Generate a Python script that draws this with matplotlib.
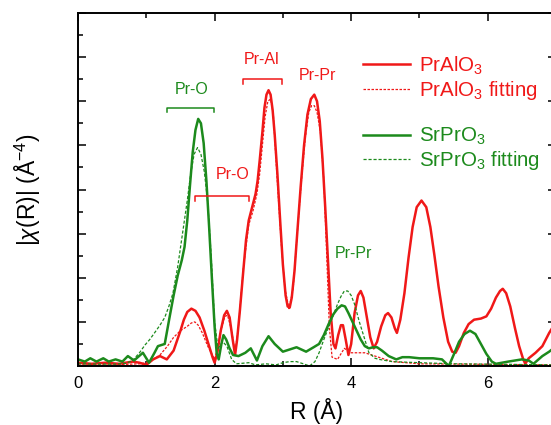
# -*- coding: utf-8 -*-
# EXAFS |chi(R)| of PrAlO3 and SrPrO3 with fits
import numpy as np
import matplotlib
matplotlib.use('Agg')
import matplotlib.pyplot as plt
from matplotlib.lines import Line2D

plt.rcParams['font.family'] = ['Liberation Sans', 'DejaVu Sans']
plt.rcParams['mathtext.fontset'] = 'custom'
plt.rcParams['mathtext.rm'] = 'Liberation Sans'
plt.rcParams['mathtext.it'] = 'Liberation Sans:italic'

# PrAlO3 data (R in Angstrom, |chi(R)| arb.)
r_pal = [0.0, 0.2, 0.4, 0.6, 0.8, 0.9, 1.0, 1.1, 1.2, 1.3, 1.4, 1.5, 1.55, 1.6, 1.66, 1.72,
         1.78, 1.85, 1.92, 1.97, 2.0, 2.04, 2.09, 2.14, 2.18, 2.22, 2.26, 2.3, 2.33, 2.37,
         2.42, 2.46, 2.5, 2.55, 2.6, 2.63, 2.66, 2.7, 2.73, 2.76, 2.79, 2.82, 2.85, 2.88,
         2.92, 2.96, 3.0, 3.04, 3.07, 3.1, 3.13, 3.17, 3.21, 3.26, 3.31, 3.36, 3.41, 3.46,
         3.5, 3.54, 3.58, 3.62, 3.66, 3.7, 3.74, 3.77, 3.81, 3.85, 3.88, 3.92, 3.96, 4.0,
         4.05, 4.1, 4.14, 4.18, 4.23, 4.28, 4.33, 4.38, 4.44, 4.5, 4.54, 4.59, 4.64, 4.67,
         4.72, 4.78, 4.84, 4.9, 4.96, 5.03, 5.1, 5.16, 5.22, 5.28, 5.35, 5.42, 5.48, 5.53,
         5.58, 5.65, 5.72, 5.8, 5.9, 5.98, 6.05, 6.12, 6.18, 6.22, 6.27, 6.33, 6.4, 6.46,
         6.52, 6.55, 6.6, 6.7, 6.8, 6.9, 7.0]
y_pal = [0.15, 0.1, 0.15, 0.1, 0.2, 0.15, 0.05, 0.3, 0.45, 0.3, 0.7, 1.6, 2.1, 2.45, 2.6, 2.5,
         2.2, 1.6, 0.9, 0.4, 0.15, 0.6, 1.6, 2.3, 2.5, 2.2, 1.3, 0.5, 1.2, 2.5,
         4.3, 5.7, 6.6, 7.2, 7.8, 8.4, 9.3, 10.6, 11.7, 12.3, 12.5, 12.3, 11.6, 10.5,
         8.7, 6.6, 4.6, 3.2, 2.7, 2.65, 3.1, 4.3, 6.0, 8.1, 10.0, 11.4, 12.1, 12.3,
         12.0, 11.1, 9.4, 7.2, 4.8, 2.4, 1.0, 0.8, 1.4, 1.85, 1.85, 1.2, 0.5, 1.0,
         2.4, 3.2, 3.4, 3.1, 2.2, 1.3, 0.8, 1.1, 1.8, 2.3, 2.4, 2.2, 1.7, 1.5,
         2.1, 3.3, 4.9, 6.3, 7.2, 7.5, 7.2, 6.3, 5.0, 3.6, 2.2, 1.1, 0.65, 0.6,
         0.9, 1.5, 1.9, 2.1, 2.15, 2.25, 2.6, 3.1, 3.4, 3.5, 3.3, 2.7, 1.7, 0.9,
         0.3, 0.1, 0.35, 0.6, 0.9, 1.5, 2.0]

# PrAlO3 fitting
r_palfit = [0.0, 0.5, 0.9, 1.0, 1.1, 1.2, 1.31, 1.4, 1.5, 1.6, 1.66, 1.71, 1.76, 1.82, 1.9,
            2.0, 2.05, 2.1, 2.15, 2.19, 2.25, 2.3, 2.35, 2.42, 2.5, 2.56, 2.62, 2.66, 2.7,
            2.74, 2.78, 2.82, 2.86, 2.9, 2.94, 2.98, 3.03, 3.09, 3.15, 3.22, 3.28, 3.33, 3.38,
            3.42, 3.46, 3.5, 3.55, 3.6, 3.64, 3.68, 3.72, 3.8, 3.9, 4.0, 4.2, 4.4, 4.6, 5.0,
            7.0]
y_palfit = [0.05, 0.05, 0.1, 0.15, 0.3, 0.5, 0.9, 1.3, 1.6, 1.8, 1.95, 2.0, 1.85, 1.5, 0.9,
            0.3, 0.9, 1.7, 2.25, 2.3, 1.6, 0.6, 1.8, 4.4, 6.4, 7.0, 7.8, 8.7, 10.0,
            11.3, 12.0, 12.1, 11.4, 9.3, 7.3, 5.4, 3.5, 2.6, 3.5, 6.4, 8.7, 10.4, 11.5,
            11.8, 11.8, 11.5, 10.6, 8.4, 5.2, 1.8, 0.4, 0.3, 0.8, 0.6, 0.6, 0.4, 0.2, 0.1,
            0.05]

# SrPrO3 data
r_spo = [0.0, 0.1, 0.18, 0.27, 0.37, 0.45, 0.55, 0.65, 0.73, 0.82, 0.95, 1.04, 1.12, 1.17, 1.27,
         1.34, 1.4, 1.46, 1.52, 1.56, 1.6, 1.64, 1.68, 1.72, 1.76, 1.8, 1.84, 1.88, 1.92,
         1.96, 2.0, 2.03, 2.06, 2.1, 2.13, 2.17, 2.22, 2.27, 2.35, 2.45, 2.53, 2.62, 2.7,
         2.79, 2.88, 3.0, 3.1, 3.2, 3.34, 3.45, 3.53, 3.6, 3.67, 3.74, 3.8, 3.86, 3.91, 3.96,
         4.02, 4.08, 4.14, 4.2, 4.26, 4.32, 4.38, 4.45, 4.55, 4.66, 4.75, 4.85, 5.0, 5.2,
         5.33, 5.43, 5.5, 5.58, 5.66, 5.74, 5.82, 5.9, 5.98, 6.06, 6.12, 6.3, 6.5, 6.6, 6.67,
         6.8, 6.9, 7.0]
y_spo = [0.3, 0.2, 0.35, 0.2, 0.35, 0.2, 0.3, 0.2, 0.45, 0.25, 0.6, 0.15, 0.6, 0.9, 1.0,
         2.2, 3.2, 4.1, 4.8, 5.4, 6.6, 8.2, 9.7, 10.7, 11.2, 11.0, 10.1, 8.4, 6.3,
         4.0, 1.8, 0.6, 0.3, 1.0, 1.4, 1.2, 0.8, 0.5, 0.45, 0.6, 0.8, 0.25, 0.9,
         1.35, 1.0, 0.65, 0.75, 0.85, 0.65, 0.85, 1.0, 1.4, 1.9, 2.35, 2.6, 2.75, 2.7, 2.4,
         2.0, 1.6, 1.2, 0.9, 0.8, 0.85, 0.85, 0.7, 0.45, 0.3, 0.4, 0.4, 0.35, 0.35,
         0.3, 0.0, 0.5, 1.1, 1.45, 1.6, 1.45, 1.0, 0.55, 0.2, 0.1, 0.2, 0.3, 0.25, 0.1,
         0.45, 0.65, 0.9]

# SrPrO3 fitting
r_spofit = [0.0, 0.5, 0.7, 0.8, 0.9, 0.98, 1.05, 1.12, 1.2, 1.27, 1.33, 1.39, 1.46, 1.53, 1.6,
            1.65, 1.7, 1.75, 1.8, 1.85, 1.9, 1.95, 2.0, 2.05, 2.12, 2.18, 2.25, 2.32, 2.5, 2.6,
            2.75, 2.9, 3.0, 3.1, 3.2, 3.3, 3.39, 3.47, 3.53, 3.6, 3.7, 3.8, 3.85, 3.9, 3.95,
            4.0, 4.05, 4.12, 4.2, 4.26, 4.35, 4.41, 4.6, 5.0, 5.5, 7.0]
y_spofit = [0.1, 0.08, 0.12, 0.25, 0.6, 0.95, 1.2, 1.5, 1.85, 2.2, 2.7, 3.3, 4.5, 6.0, 7.5,
            8.7, 9.6, 9.9, 9.6, 8.8, 7.4, 5.0, 2.0, 0.8, 1.1, 0.9, 0.3, 0.1, 0.15, 0.05,
            0.1, 0.05, 0.15, 0.2, 0.2, 0.1, 0.0, 0.2, 0.6, 1.2, 2.0, 2.8, 3.15, 3.4, 3.4,
            3.2, 2.8, 2.0, 1.2, 0.6, 0.35, 0.3, 0.2, 0.15, 0.1, 0.05]

# shell labels: text, x, y, color
shell_labels = ['Pr-O', 'Pr-O', 'Pr-Al', 'Pr-Pr', 'Pr-Pr']
shell_x = [1.66, 2.27, 2.69, 3.5, 4.03]
shell_y = [12.55, 8.66, 13.9, 13.15, 5.1]
shell_col = ['g', 'r', 'r', 'r', 'g']
# brackets: x0, x1, y, color
br_x0 = [1.31, 1.72, 2.41]
br_x1 = [1.99, 2.5, 2.99]
br_y = [11.7, 7.7, 13.0]
br_col = ['g', 'r', 'r']

red = '#f01818'
green = '#1c8a1c'
cmap = {'r': red, 'g': green}

fig = plt.figure(figsize=(5.51, 4.25), dpi=100)
ax = fig.add_axes([0.1416, 0.1388, 0.8675, 0.8306])

ax.plot(r_pal, y_pal, color=red, lw=1.8, solid_joinstyle='round')
ax.plot(r_palfit, y_palfit, color=red, lw=0.9, ls=(0, (2, 1.2)))
ax.plot(r_spo, y_spo, color=green, lw=1.8, solid_joinstyle='round')
ax.plot(r_spofit, y_spofit, color=green, lw=0.9, ls=(0, (2.5, 1.5)))

for t, x, y, c in zip(shell_labels, shell_x, shell_y, shell_col):
    ax.text(x, y, t, color=cmap[c], fontsize=11.5, ha='center', va='center')
for x0, x1, y, c in zip(br_x0, br_x1, br_y, br_col):
    ax.plot([x0, x0, x1, x1], [y - 0.2, y, y, y - 0.2], color=cmap[c], lw=1.1)

ax.set_xlim(0, 7)
ax.set_ylim(0, 16)
ax.set_xticks([0, 2, 4, 6])
ax.set_xticks([1, 3, 5], minor=True)
ax.set_yticks(np.arange(0, 17, 2))
ax.set_yticks(np.arange(1, 16, 2), minor=True)
ax.set_yticklabels([])
ax.tick_params(which='both', direction='in', top=True, right=True, width=1.1)
ax.tick_params(which='major', length=5.8, labelsize=12, pad=7)
ax.tick_params(which='minor', length=3.6)
for s in ax.spines.values():
    s.set_linewidth(1.4)

ax.set_xlabel('R (Å)', fontsize=16.5, labelpad=5)
ax.set_ylabel(r'|$\chi$(R)| (Å$^{-4}$)', fontsize=16.5, labelpad=18)

h1 = [Line2D([], [], color=red, lw=1.8), Line2D([], [], color=red, lw=0.9, ls=(0, (2, 1.2)))]
h2 = [Line2D([], [], color=green, lw=1.8), Line2D([], [], color=green, lw=0.9, ls=(0, (2.5, 1.5)))]
leg1 = ax.legend(h1, ['PrAlO$_3$', 'PrAlO$_3$ fitting'], loc='upper left',
                 bbox_to_anchor=(0.578, 0.906), frameon=False, fontsize=14.8,
                 labelcolor='linecolor', handlelength=2.29, handletextpad=0.44,
                 labelspacing=0.1, borderaxespad=0)
ax.add_artist(leg1)
ax.legend(h2, ['SrPrO$_3$', 'SrPrO$_3$ fitting'], loc='upper left',
          bbox_to_anchor=(0.578, 0.703), frameon=False, fontsize=14.8,
          labelcolor='linecolor', handlelength=2.29, handletextpad=0.44,
          labelspacing=0.1, borderaxespad=0)

fig.savefig('out.png', dpi=100)
